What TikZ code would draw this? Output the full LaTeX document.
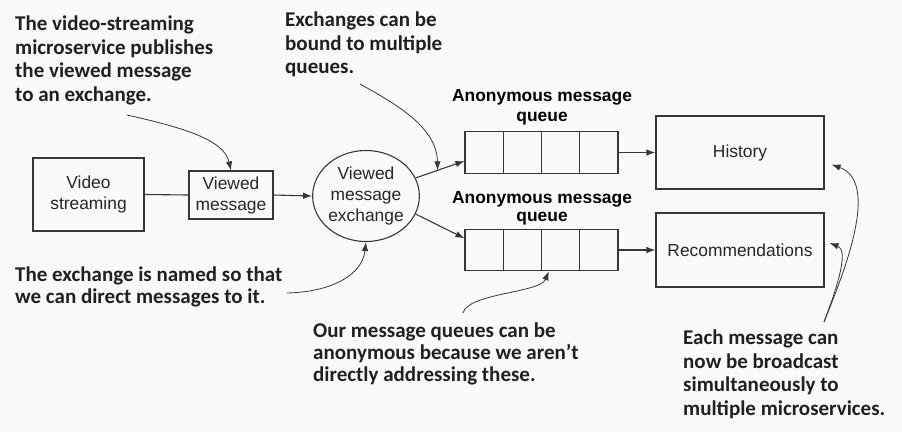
\documentclass[tikz,border=0pt]{standalone}
\usepackage{fontspec}
\setmainfont{Liberation Sans}
\newfontfamily\notefont{Carlito}
\usepackage{tikz}
\usetikzlibrary{arrows.meta,positioning,shapes.geometric,calc}
\definecolor{lnblack}{RGB}{55,55,55}
\definecolor{notetext}{RGB}{35,31,32}
\definecolor{pagebg}{RGB}{250,250,250}

\begin{document}
\begin{tikzpicture}[
  x=1pt,y=-1pt,
  every node/.style={font=\fontsize{17.4}{21}\selectfont,align=center,text=black!85},
  box/.style={draw=lnblack,line width=1.1pt,inner sep=0pt},
  cell/.style={draw=lnblack,line width=1.1pt,minimum width=38.25pt,minimum height=41.5pt,inner sep=0pt},
  qlabel/.style={font=\bfseries\fontsize{17.4}{20}\selectfont,inner sep=0pt,text=black},
  flow/.style={draw=lnblack,line width=1.1pt,-{Latex[length=9pt,width=6.5pt]}},
  note/.style={font=\notefont\bfseries\fontsize{21}{23.4}\selectfont,align=left,anchor=north west,inner sep=0pt,text=notetext},
  tight/.style={font=\notefont\bfseries\fontsize{21}{21.7}\selectfont},
  callout/.style={draw=lnblack,line width=0.8pt,-{Latex[length=9pt,width=6.5pt]}}
]
\fill[pagebg] (0,0) rectangle (902,432);

\node[box,minimum width=111pt,minimum height=73pt] (video) at (88.5,194.5) {Video\\streaming};
\node[box,minimum width=84pt,minimum height=48pt] (viewed) at (231,195) {Viewed\\message};
\node[draw=lnblack,line width=1.1pt,ellipse,minimum width=102pt,minimum height=91pt,inner sep=0pt] (exch) at (366,196) {Viewed\\message\\exchange};

\foreach \i in {1,...,4} {
  \node[cell] (qa\i) at ({445.875+38.25*\i},152.5) {};
  \node[cell] (qb\i) at ({445.875+38.25*\i},250) {};
}
\node[qlabel,above=6pt of qa2.north east] (qalabel) {Anonymous message\\queue};
\node[qlabel,font=\bfseries\fontsize{17.4}{18}\selectfont,above=3pt of qb2.north east] (qblabel) {Anonymous message\\queue};

\node[box,minimum width=168pt,minimum height=73pt] (history) at (740,152.5) {History};
\node[box,minimum width=168pt,minimum height=74pt] (recs) at (740,250) {Recommendations};

\draw[lnblack,line width=1.1pt] (video.east) -- (viewed.west);
\draw[flow] (viewed.east) -- (exch.west);
\draw[flow] (exch.20) -- coordinate[pos=0.45] (bindpt) ($(qa1.west)!0.4!(qa1.south west)$);
\draw[flow] (exch.-20) -- ($(qb1.west)!0.55!(qb1.north west)$);
\draw[flow] (qa4.east) -- (history.west);
\draw[flow] (qb4.east) -- (recs.west);

\node[note] (pubnote) at (15,16) {The video-streaming\\microservice publishes\\the viewed message\\to an exchange.};
\coordinate (pubfrom) at (127,115);
\draw[callout] (pubfrom) .. controls (185,128) and (224,140) .. (viewed.north);

\node[note] (bindnote) at (285,12) {Exchanges can be\\bound to multiple\\queues.};
\coordinate (bindfrom) at (360,84);
\draw[callout] (bindfrom) .. controls (398,105) and (437,128) .. (bindpt);

\node[note,tight] (namenote) at (15,267) {The exchange is named so that\\we can direct messages to it.};
\coordinate (namefrom) at (287,293);
\draw[callout] (namefrom) .. controls (330,292) and (362,276) .. (exch.south);

\node[note,tight] (anonnote) at (313,323) {Our message queues can be\\anonymous because we aren’t\\directly addressing these.};
\coordinate (anonfrom) at (463,313);
\draw[callout] (anonfrom) .. controls (468,293) and (540,293) .. ($(qb3.south west)!0.2!(qb3.south east)$);

\node[note] (castnote) at (683,330) {Each message can\\now be broadcast\\simultaneously to\\multiple microservices.};
\coordinate (castfrom) at (824,322);
\draw[callout] (castfrom) .. controls (845,270) and (880,182) .. ($(history.east)+(7,12)$);
\draw[callout] (castfrom) .. controls (840,280) and (848,250) .. ($(recs.east)+(5,-7)$);
\end{tikzpicture}
\end{document}
